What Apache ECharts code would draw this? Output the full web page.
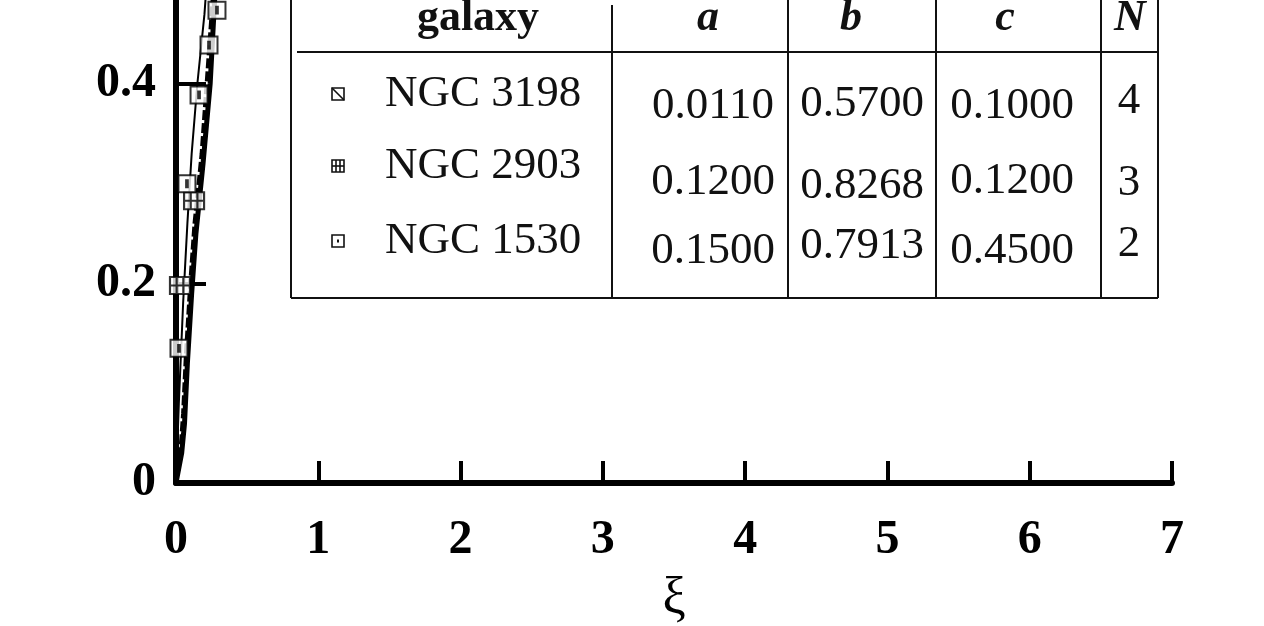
<!DOCTYPE html>
<html>
<head>
<meta charset="utf-8">
<script src="https://cdn.jsdelivr.net/npm/echarts@6/dist/echarts.min.js"></script>
<style>
html,body{margin:0;padding:0;background:#fff;}
#chart{width:1264px;height:626px;}
</style>
</head>
<body>
<div id="chart"></div>
<script>
// ---------- data ----------
const xTicks = [0, 1, 2, 3, 4, 5, 6, 7];
const yTicks = [0, 0.2, 0.4];
const galaxies = ['NGC 3198', 'NGC 2903', 'NGC 1530'];
const paramA = ['0.0110', '0.1200', '0.1500'];
const paramB = ['0.5700', '0.8268', '0.7913'];
const paramC = ['0.1000', '0.1200', '0.4500'];
const paramN = ['4', '3', '2'];
const headers = ['galaxy', 'a', 'b', 'c', 'N'];

// observed points (xi, value)
const obs3198 = [];
const obs2903 = [[0.028, 0.198], [0.127, 0.283]];
const obs1530 = [[0.021, 0.135], [0.077, 0.300], [0.162, 0.389], [0.232, 0.439], [0.288, 0.474]];

// model curves
const modelSolid = [[0, 0], [0.04, 0.03], [0.06, 0.06], [0.08, 0.12], [0.11, 0.19], [0.14, 0.25], [0.19, 0.32], [0.24, 0.40], [0.27, 0.48], [0.30, 0.56]];
const modelDash = [[0, 0], [0.03, 0.03], [0.05, 0.07], [0.07, 0.13], [0.10, 0.20], [0.13, 0.26], [0.18, 0.33], [0.22, 0.41], [0.26, 0.49], [0.29, 0.57]];
const modelThin = [[0, 0], [0.02, 0.08], [0.05, 0.18], [0.08, 0.26], [0.11, 0.33], [0.15, 0.40], [0.20, 0.47], [0.24, 0.55]];

// ---------- style / layout ----------
const FONT = 'Liberation Serif';
const sym3198 = 'path://M0,0H10V10H0Z M0,0L10,10';
const sym2903 = 'path://M0,0H12V12H0Z M4,0V12 M8,0V12 M0,6H12';
const sym1530 = 'path://M0,0H10V10H0Z M4.5,3H5.5V7H4.5Z';

const tbl = {
  left: 291, right: 1158, bottom: 298, sep: 52,
  cols: [612, 788, 936, 1101],
  headX: [478, 708, 851, 1005, 1130], headY: 19,
  markerX: 338, nameX: 385,
  nameY: [94, 166, 241],
  aX: 713, bX: 862, cX: 1012, nX: 1129,
  aY: [106, 182, 251], bY: [104, 186, 246], cY: [106, 181, 251], nY: [101, 183, 244]
};

const g = [];
const lineStyle = {stroke: '#111', lineWidth: 2};
g.push({type: 'line', shape: {x1: tbl.left, y1: 0, x2: tbl.left, y2: tbl.bottom}, style: lineStyle});
g.push({type: 'line', shape: {x1: tbl.left, y1: tbl.bottom, x2: tbl.right, y2: tbl.bottom}, style: lineStyle});
g.push({type: 'line', shape: {x1: 297, y1: tbl.sep, x2: tbl.right, y2: tbl.sep}, style: lineStyle});
g.push({type: 'line', shape: {x1: tbl.right, y1: 0, x2: tbl.right, y2: tbl.bottom}, style: lineStyle});
tbl.cols.forEach((x, i) => {
  g.push({type: 'line', shape: {x1: x, y1: i === 0 ? 5 : 0, x2: x, y2: tbl.bottom}, style: lineStyle});
});
headers.forEach((h, i) => {
  g.push({type: 'text', x: tbl.headX[i], y: tbl.headY, style: {
    text: h, fill: '#111', font: (i === 0 ? 'bold ' : 'italic bold ') + '44px "' + FONT + '"',
    textAlign: 'center', textVerticalAlign: 'middle'}});
});
const txt = (s, x, y) => ({type: 'text', x: x, y: y, style: {
  text: s, fill: '#111', font: '45px "' + FONT + '"', textAlign: 'center', textVerticalAlign: 'middle'}});
galaxies.forEach((name, i) => {
  g.push({type: 'text', x: tbl.nameX, y: tbl.nameY[i], style: {
    text: name, fill: '#111', font: '45px "' + FONT + '"', textAlign: 'left', textVerticalAlign: 'middle'}});
  g.push(txt(paramA[i], tbl.aX, tbl.aY[i]));
  g.push(txt(paramB[i], tbl.bX, tbl.bY[i]));
  g.push(txt(paramC[i], tbl.cX, tbl.cY[i]));
  g.push(txt(paramN[i], tbl.nX, tbl.nY[i]));
  // marker glyphs
  const mx = tbl.markerX, my = tbl.nameY[i], s = 6;
  const ms = {stroke: '#111', lineWidth: 1.6, fill: '#fff'};
  g.push({type: 'rect', shape: {x: mx - s, y: my - s, width: 2 * s, height: 2 * s}, style: ms});
  if (i === 0) {
    g.push({type: 'line', shape: {x1: mx - s, y1: my - s, x2: mx + s, y2: my + s}, style: ms});
  } else if (i === 1) {
    g.push({type: 'line', shape: {x1: mx - 2, y1: my - s, x2: mx - 2, y2: my + s}, style: ms});
    g.push({type: 'line', shape: {x1: mx + 2, y1: my - s, x2: mx + 2, y2: my + s}, style: ms});
    g.push({type: 'line', shape: {x1: mx - s, y1: my, x2: mx + s, y2: my}, style: ms});
  } else {
    g.push({type: 'rect', shape: {x: mx - 1, y: my - 1.5, width: 2, height: 3}, style: {fill: '#111'}});
  }
});

const chart = echarts.init(document.getElementById('chart'), null, {renderer: 'canvas'});
const axisFont = {fontFamily: FONT, fontSize: 48, fontWeight: 'bold', color: '#000'};
chart.setOption({
  animation: false,
  backgroundColor: '#fff',
  grid: {left: 176, right: 92, bottom: 143, top: -115.5, containLabel: false, outerBoundsMode: 'none'},
  xAxis: {
    type: 'value', min: xTicks[0], max: xTicks[xTicks.length - 1], interval: 1,
    name: 'ξ', nameLocation: 'middle', nameGap: 90,
    nameTextStyle: {fontFamily: FONT, fontSize: 52, color: '#000'},
    axisLine: {lineStyle: {color: '#000', width: 6}},
    axisTick: {inside: true, length: 22, lineStyle: {color: '#000', width: 4}},
    axisLabel: Object.assign({margin: 34, formatter: v => xTicks.includes(v) ? String(v) : ''}, axisFont),
    splitLine: {show: false}
  },
  yAxis: {
    type: 'value', min: 0, max: 0.6, interval: 0.2,
    axisLine: {lineStyle: {color: '#000', width: 6}},
    axisTick: {inside: true, length: 30, lineStyle: {color: '#000', width: 4}},
    axisLabel: Object.assign({margin: 20, formatter: v => {
      const t = yTicks.find(y => Math.abs(y - v) < 1e-9);
      return t === undefined ? '' : (t === 0 ? '0' : t.toFixed(1));
    }}, axisFont),
    splitLine: {show: false}
  },
  series: [
    {type: 'line', data: modelThin, showSymbol: false, lineStyle: {color: '#000', width: 2}, z: 2},
    {type: 'line', data: modelDash, showSymbol: false, lineStyle: {color: '#000', width: 4, type: [10, 3]}, z: 2},
    {type: 'line', data: modelSolid, showSymbol: false, lineStyle: {color: '#000', width: 5}, z: 2},
    {type: 'scatter', name: galaxies[0], data: obs3198, symbol: sym3198, symbolSize: 16,
      itemStyle: {color: '#fff', borderColor: '#000', borderWidth: 2}, z: 5},
    {type: 'scatter', name: galaxies[1], data: obs2903, symbol: sym2903, symbolSize: [20, 17],
      itemStyle: {color: '#fff', borderColor: '#000', borderWidth: 2}, z: 5},
    {type: 'scatter', name: galaxies[2], data: obs1530, symbol: sym1530, symbolSize: 17,
      itemStyle: {color: '#fff', borderColor: '#000', borderWidth: 2}, z: 5}
  ],
  graphic: {elements: g}
});
</script>
</body>
</html>
